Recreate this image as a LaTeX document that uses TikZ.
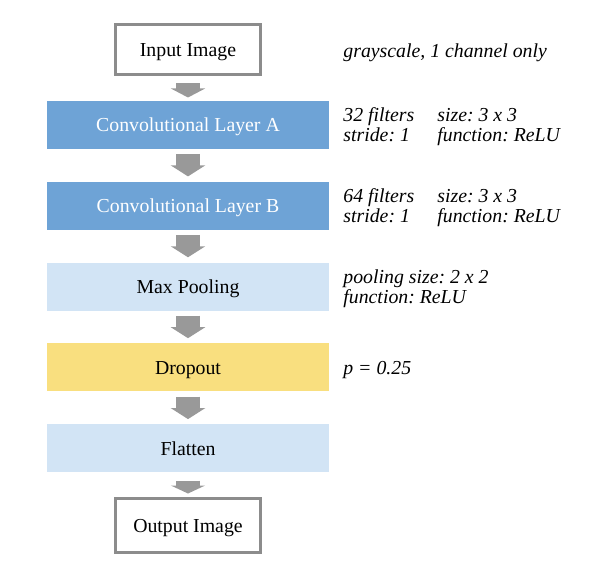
\documentclass[tikz,border=0pt]{standalone}
\usepackage{fontspec}
\setmainfont{Liberation Serif}
\usetikzlibrary{arrows.meta,positioning}
\definecolor{cnnframe}{RGB}{140,140,140}
\definecolor{cnnarrow}{RGB}{153,153,153}
\definecolor{cnnconv}{RGB}{110,163,214}
\definecolor{cnnlight}{RGB}{210,228,245}
\definecolor{cnndrop}{RGB}{249,223,127}

\begin{document}
\begin{tikzpicture}[x=1pt,y=1pt,font=\fontsize{19.8}{20}\selectfont\frenchspacing,node distance=32.5pt,
    io/.style={draw=cnnframe,line width=3pt,fill=white,minimum width=145pt,minimum height=50pt,inner sep=0pt,
      text height=16pt,text depth=2pt},
    layer/.style={minimum width=282pt,minimum height=48pt,inner sep=0pt,text height=16pt,text depth=2pt},
    note/.style={anchor=west,inner sep=0pt,yshift=-2.5pt,font=\fontsize{19.8}{20}\selectfont\itshape\frenchspacing},
    flow/.style={draw=cnnarrow,line width=24pt,-{Triangle[width=34pt,length=11pt]},
      shorten <=5pt,shorten >=5pt}]
    \useasboundingbox (-188,50) rectangle (419,-530);
    \node[io] (input) at (0,0) {Input Image};
    \node[layer,fill=cnnconv,text=white,below=24pt of input] (convA) {Convolutional Layer A};
    \node[layer,fill=cnnconv,text=white,below=of convA] (convB) {Convolutional Layer B};
    \node[layer,fill=cnnlight,below=of convB] (pool) {Max Pooling};
    \node[layer,fill=cnndrop,below=of pool] (drop) {Dropout};
    \node[layer,fill=cnnlight,below=of drop] (flat) {Flatten};
    \node[io,minimum height=54pt,below=24pt of flat] (output) {Output Image};
    % arrows between the stages
    \draw[flow,shorten <=7pt,shorten >=3pt,-{Triangle[width=34pt,length=9pt]}] (input.south) -- (convA.north);
    \draw[flow] (convA) -- (convB);
    \draw[flow] (convB) -- (pool);
    \draw[flow] (pool) -- (drop);
    \draw[flow] (drop) -- (flat);
    \draw[flow,shorten <=8pt,shorten >=3pt,-{Triangle[width=34pt,length=8pt]}] (flat.south) -- (output.north);
    % parameters on the right
    \coordinate (notex) at ([xshift=14pt]convA.east);
    \node[note] (ninput) at (input -| notex) {grayscale, 1 channel only};
    \node[note] (nconvA) at (convA -| notex) {\begin{tabular}{@{}p{94pt}@{}l@{}}32 filters & size: 3 x 3\\ stride: 1 & function: ReLU\end{tabular}};
    \node[note] (nconvB) at (convB -| notex) {\begin{tabular}{@{}p{94pt}@{}l@{}}64 filters & size: 3 x 3\\ stride: 1 & function: ReLU\end{tabular}};
    \node[note] (npool) at (pool -| notex) {\begin{tabular}{@{}l@{}}pooling size: 2 x 2\\ function: ReLU\end{tabular}};
    \node[note] (ndrop) at (drop -| notex) {p = 0.25};
\end{tikzpicture}
\end{document}
